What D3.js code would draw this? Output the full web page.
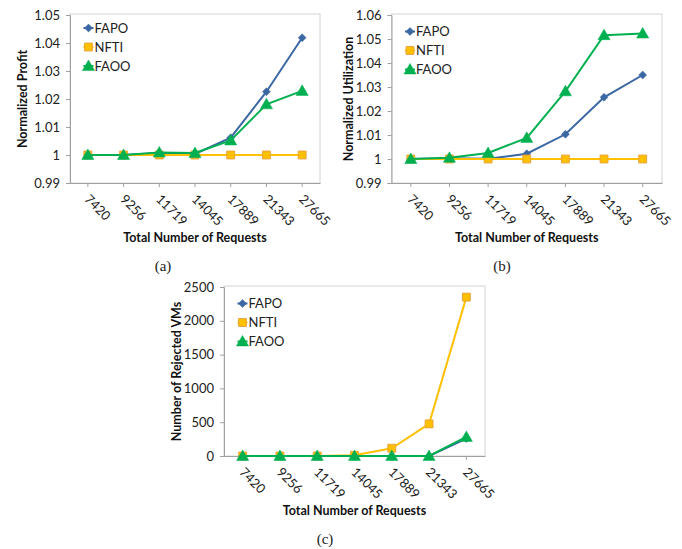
<!DOCTYPE html>
<html>
<head>
<meta charset="utf-8">
<script src="https://cdn.jsdelivr.net/npm/d3@7"></script>
<style>
  body { margin: 0; background: #fff; }
  svg { display: block; }
</style>
</head>
<body>
<div id="chart"></div>
<script>
// x categories, shared by the three panels
const categories = ["7420", "9256", "11719", "14045", "17889", "21343", "27665"];
const seriesNames = ["FAPO", "NFTI", "FAOO"];

// (a) normalized profit
const profitFAPO = [1, 1, 1.0007, 1.0004, 1.0062, 1.0226, 1.0419];
const profitNFTI = [1, 1, 1, 1, 1, 1, 1];
const profitFAOO = [1, 1, 1.0009, 1.0007, 1.0052, 1.0181, 1.0229];
const profitTicks = [0.99, 1, 1.01, 1.02, 1.03, 1.04, 1.05];

// (b) normalized utilization
const utilFAPO = [1, 1.0003, 1.0001, 1.0022, 1.0103, 1.0257, 1.035];
const utilNFTI = [1, 1, 1, 1, 1, 1, 1];
const utilFAOO = [1, 1.0005, 1.0025, 1.0088, 1.0282, 1.0516, 1.0523];
const utilTicks = [0.99, 1, 1.01, 1.02, 1.03, 1.04, 1.05, 1.06];

// (c) rejected VMs
const rejFAPO = [0, 0, 0, 0, 0, 0, 258];
const rejNFTI = [0, 0, 0, 10, 115, 475, 2350];
const rejFAOO = [0, 0, 0, 0, 0, 0, 282];
const rejTicks = [0, 500, 1000, 1500, 2000, 2500];

const colors = { FAPO: "#3b67a3", NFTI: "#ffc000", FAOO: "#00b050" };
const symbols = { FAPO: d3.symbolDiamond2, NFTI: d3.symbolSquare, FAOO: d3.symbolTriangle };
const symbolSize = { FAPO: 40, NFTI: 62, FAOO: 64 };
const font = "Lato, 'Open Sans', sans-serif";

const svg = d3.select("#chart").append("svg")
    .attr("width", 682)
    .attr("height", 549);

const drawMarker = (g, name, x, y) => {
    g.append("path")
        .attr("d", d3.symbol(symbols[name], symbolSize[name])())
        .attr("transform", `translate(${x},${y + (name === "FAOO" ? 1 : 0)})`)
        .style("fill", colors[name])
        .style("stroke", name === "NFTI" ? "#e9a43c" : colors[name])
        .style("stroke-width", name === "NFTI" ? 1 : 0.5);
};

const drawPanel = ({box, yTicks, yTitle, yTitleX, series, caption, legendTop}) => {
    const g = svg.append("g");

    const x = d3.scaleBand()
        .domain(categories)
        .range([box.left, box.right]);

    const y = d3.scaleLinear()
        .domain([yTicks[0], yTicks[yTicks.length - 1]])
        .range([box.bottom, box.top]);

    // plot area border
    g.append("rect")
        .attr("x", box.left)
        .attr("y", box.top - 1)
        .attr("width", box.right - box.left)
        .attr("height", box.bottom - box.top + 1)
        .style("fill", "none")
        .style("stroke", "#d4d4d4");

    const yAxis = d3.axisLeft(y)
        .tickValues(yTicks)
        .tickSize(4)
        .tickPadding(6)
        .tickFormat(d => String(+d.toFixed(2)));

    const yg = g.append("g")
        .attr("transform", `translate(${box.left},0)`)
        .call(yAxis);

    const xAxis = d3.axisBottom(x)
        .tickSize(4)
        .tickSizeOuter(0);

    const xg = g.append("g")
        .attr("transform", `translate(0,${box.bottom})`)
        .call(xAxis);

    xg.selectAll("text")
        .attr("x", 0)
        .attr("y", 0)
        .attr("dy", 0)
        .attr("text-anchor", "start")
        .attr("transform", "translate(-4,17) rotate(45)");

    [xg, yg].forEach(a => {
        a.select(".domain").style("stroke", "#a0a0a0");
        a.selectAll(".tick line").style("stroke", "#a0a0a0");
        a.selectAll("text")
            .style("font-family", font)
            .style("font-size", "13px")
            .style("fill", "#222");
    });

    // axis titles
    g.append("text")
        .text("Total Number of Requests")
        .attr("x", (box.left + box.right) / 2)
        .attr("y", box.bottom + 59)
        .attr("text-anchor", "middle")
        .style("font-family", font)
        .style("font-weight", "bold")
        .style("font-size", "12.5px")
        .style("fill", "#111");

    g.append("text")
        .text(yTitle)
        .attr("transform", `translate(${yTitleX},${(box.top + box.bottom) / 2}) rotate(-90)`)
        .attr("text-anchor", "middle")
        .attr("dy", "0.35em")
        .style("font-family", font)
        .style("font-weight", "bold")
        .style("font-size", "12.5px")
        .style("fill", "#111");

    // lines and markers
    const line = d3.line()
        .x((d, i) => x(categories[i]) + x.bandwidth() / 2)
        .y(d => y(d));

    seriesNames.forEach(name => {
        const values = series[name];
        g.append("path")
            .datum(values)
            .attr("d", line)
            .style("fill", "none")
            .style("stroke", colors[name])
            .style("stroke-width", 2);
        values.forEach((v, i) => {
            drawMarker(g, name, x(categories[i]) + x.bandwidth() / 2, y(v));
        });
    });

    // legend
    const lx = box.left + 18.5;
    seriesNames.forEach((name, i) => {
        const ly = legendTop + i * 19;
        g.append("line")
            .attr("x1", lx - 5)
            .attr("x2", lx + 5)
            .attr("y1", ly)
            .attr("y2", ly)
            .style("stroke", colors[name])
            .style("stroke-width", 2);
        drawMarker(g, name, lx, ly);
        g.append("text")
            .text(name)
            .attr("x", lx + 6)
            .attr("y", ly)
            .attr("dy", "0.36em")
            .style("font-family", font)
            .style("font-size", "13px")
            .style("fill", "#222");
    });

    // caption
    g.append("text")
        .text(caption.text)
        .attr("x", caption.x)
        .attr("y", caption.y)
        .attr("text-anchor", "middle")
        .style("font-family", "'Liberation Serif', 'DejaVu Serif', serif")
        .style("font-size", "15px")
        .style("fill", "#222");
};

drawPanel({
    box: {left: 70, right: 320, top: 15, bottom: 183},
    yTicks: profitTicks,
    yTitle: "Normalized Profit",
    yTitleX: 23,
    series: {FAPO: profitFAPO, NFTI: profitNFTI, FAOO: profitFAOO},
    caption: {text: "(a)", x: 163, y: 271},
    legendTop: 28
});

drawPanel({
    box: {left: 391.5, right: 662, top: 15, bottom: 183},
    yTicks: utilTicks,
    yTitle: "Normalized Utilization",
    yTitleX: 349,
    series: {FAPO: utilFAPO, NFTI: utilNFTI, FAOO: utilFAOO},
    caption: {text: "(b)", x: 502, y: 271},
    legendTop: 31.5
});

drawPanel({
    box: {left: 224, right: 485, top: 287, bottom: 456},
    yTicks: rejTicks,
    yTitle: "Number of Rejected VMs",
    yTitleX: 177,
    series: {FAPO: rejFAPO, NFTI: rejNFTI, FAOO: rejFAOO},
    caption: {text: "(c)", x: 325, y: 544},
    legendTop: 303.5
});
</script>
</body>
</html>
